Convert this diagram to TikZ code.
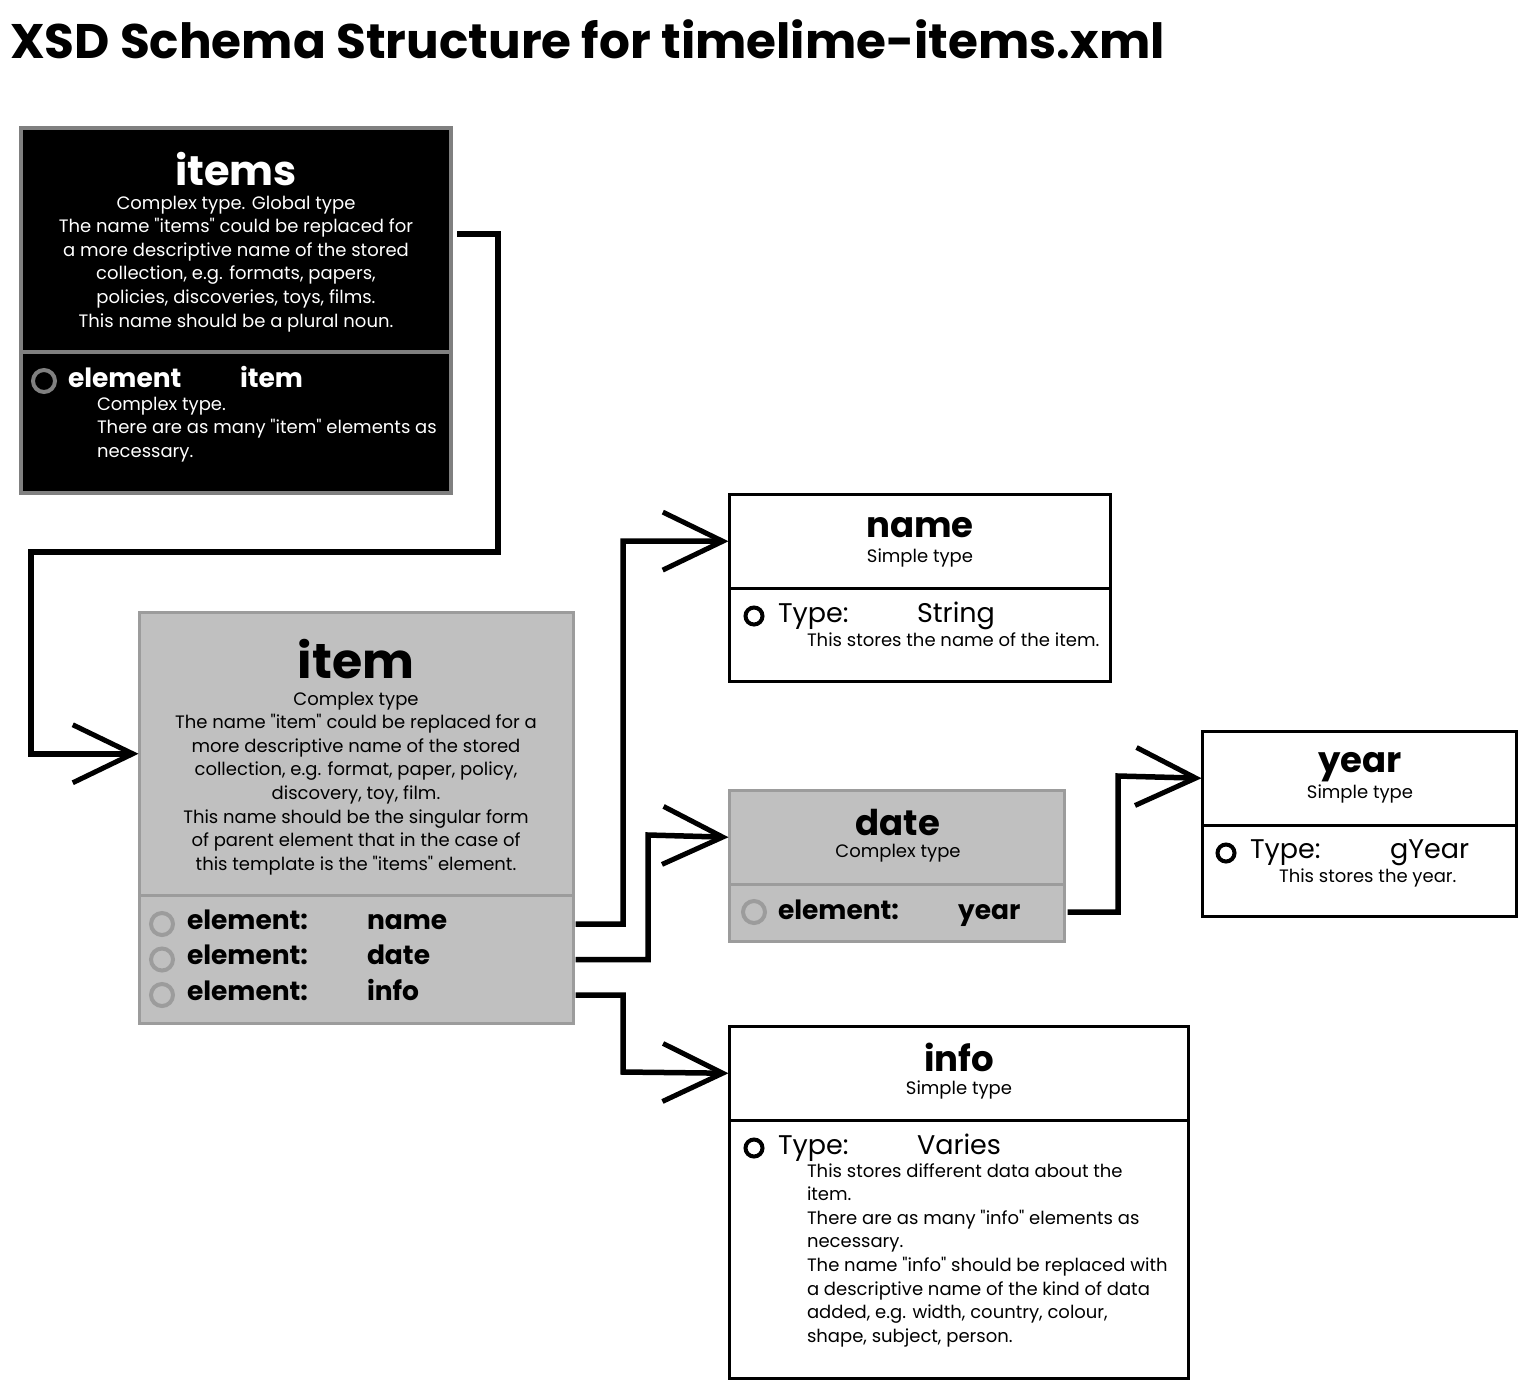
\documentclass[tikz,border=0pt]{standalone}
\usepackage{fontspec}
\setmainfont{Poppins}
\usetikzlibrary{arrows.meta,calc}
\definecolor{panelgray}{HTML}{C0C0C0}
\definecolor{edgegray}{HTML}{9C9C9C}
\definecolor{darkedge}{HTML}{808080}
\newcommand{\fsz}[2]{\fontsize{#1}{#2}\selectfont}
\newcommand{\qq}{\textquotedbl}
\begin{document}
\begin{tikzpicture}[x=1pt,y=-1pt,
  part/.style={rectangle, inner sep=0, outer sep=0, anchor=north west},
  blackpart/.style={part, fill=black, draw=darkedge, line width=4pt},
  greypart/.style={part, fill=panelgray, draw=edgegray, line width=3pt},
  whitepart/.style={part, fill=white, draw=black, line width=3pt},
  txt/.style={inner sep=0, outer sep=0},
  bigtitle/.style={txt, anchor=base, font=\fsz{41.5}{50}\bfseries},
  subtitle/.style={txt, anchor=base, font=\fsz{35.5}{40}\bfseries},
  desc/.style={txt, font=\fsz{18}{23.6}},
  elemrow/.style={txt, anchor=base west, font=\fsz{26.5}{30}\bfseries},
  typerow/.style={txt, anchor=base west, font=\fsz{27}{30}},
  bullet/.style={circle, inner sep=0, minimum size=17pt, line width=4pt},
  greybullet/.style={circle, inner sep=0, minimum size=22pt, line width=4pt},
  conn/.style={line width=5.5pt, line join=miter,
    -{Straight Barb[length=60pt,width=58pt,line width=5pt]}, shorten >=1pt},
]
\useasboundingbox (0,0) rectangle (1528,1393);
\fill[white] (0,0) rectangle (1528,1393);

% heading
\node[txt, anchor=base west, font=\fsz{48.5}{60}\bfseries] (heading) at (10,58)
  {XSD Schema Structure for timelime-items.xml};

% ---------- items ----------
\node[blackpart, minimum width=430pt, minimum height=224pt] (itemshead) at (21,128) {};
\node[blackpart, minimum width=430pt, minimum height=141pt] (itemsbody) at (21,352) {};
\node[bigtitle, text=white] (itemsname) at (236,185) {items};
% multi-line nodes: the base anchor sits on the last line
\node[desc, text=white, anchor=base, align=center] (itemsdesc) at (236,327)
  {Complex type. Global type\\
   The name \qq items\qq{} could be replaced for\\
   a more descriptive name of the stored\\
   collection, e.g. formats, papers,\\
   policies, discoveries, toys, films.\\
   This name should be a plural noun.};
\node[greybullet, draw=darkedge] (itemsdot) at (44,381) {};
\node[elemrow, text=white] (itemsel) at (68,387) {element};
\node[elemrow, text=white] (itemsref) at (240,387) {item};
\node[desc, text=white, anchor=base west, align=left] (itemseldesc) at (97,457.2)
  {Complex type.\\
   There are as many \qq item\qq{} elements as\\
   necessary.};

% ---------- item ----------
\node[greypart, minimum width=434pt, minimum height=282.5pt] (itemhead) at (139.5,612.5) {};
\node[greypart, minimum width=434pt, minimum height=128.5pt] (itembody) at (139.5,895) {};
\node[bigtitle, font=\fsz{49}{60}\bfseries] (itemname) at (356,678) {item};
\node[desc, anchor=base, align=center] (itemdesc) at (356,870.2)
  {Complex type\\
   The name \qq item\qq{} could be replaced for a\\
   more descriptive name of the stored\\
   collection, e.g. format, paper, policy,\\
   discovery, toy, film.\\
   This name should be the singular form\\
   of parent element that in the case of\\
   this template is the \qq items\qq{} element.};
\foreach \k/\yy/\ref in {1/929/name, 2/964.5/date, 3/1000/info} {
  \node[greybullet, draw=edgegray] (itemdot\k) at (162,\yy-5) {};
  \node[elemrow] (itemel\k) at (187,\yy) {element:};
  \node[elemrow] (itemref\k) at (367,\yy) {\ref};
}

% ---------- name ----------
\node[whitepart, minimum width=381pt, minimum height=93.5pt] (namehead) at (729.5,494.5) {};
\node[whitepart, minimum width=381pt, minimum height=93.5pt] (namebody) at (729.5,588) {};
\node[subtitle] (nametitle) at (920,537) {name};
\node[desc, anchor=base] (namekind) at (920,562) {Simple type};
\node[bullet, draw=black] (namedot) at (754,616) {};
\node[typerow] (nametype) at (778,622) {Type:};
\node[typerow] (nameval) at (917,622) {String};
\node[desc, anchor=base west] (namedesc) at (807,646) {This stores the name of the item.};

% ---------- date ----------
\node[greypart, minimum width=335pt, minimum height=93.5pt] (datehead) at (729.5,790.5) {};
\node[greypart, minimum width=335pt, minimum height=57.5pt] (datebody) at (729.5,884) {};
\node[subtitle] (datetitle) at (898,835) {date};
\node[desc, anchor=base] (datekind) at (898,857) {Complex type};
\node[greybullet, draw=edgegray] (datedot) at (754,912) {};
\node[elemrow] (dateel) at (778,919) {element:};
\node[elemrow] (dateref) at (958,919) {year};

% ---------- year ----------
\node[whitepart, minimum width=314pt, minimum height=93.5pt] (yearhead) at (1202.5,731.5) {};
\node[whitepart, minimum width=314pt, minimum height=91.5pt] (yearbody) at (1202.5,825) {};
\node[subtitle] (yeartitle) at (1360,772) {year};
\node[desc, anchor=base] (yearkind) at (1360,798) {Simple type};
\node[bullet, draw=black] (yeardot) at (1226,853) {};
\node[typerow] (yeartype) at (1250,858) {Type:};
\node[typerow] (yearval) at (1390,858) {gYear};
\node[desc, anchor=base west] (yeardesc) at (1279,882) {This stores the year.};

% ---------- info ----------
\node[whitepart, minimum width=459pt, minimum height=93.5pt] (infohead) at (729.5,1026.5) {};
\node[whitepart, minimum width=459pt, minimum height=258.5pt] (infobody) at (729.5,1120) {};
\node[subtitle] (infotitle) at (959,1071) {info};
\node[desc, anchor=base] (infokind) at (959,1094) {Simple type};
\node[bullet, draw=black] (infodot) at (754,1148) {};
\node[typerow] (infotype) at (778,1154) {Type:};
\node[typerow] (infoval) at (917,1154) {Varies};
\node[desc, anchor=base west, align=left] (infodesc) at (807,1342.2)
  {This stores different data about the\\
   item.\\
   There are as many \qq info\qq{} elements as\\
   necessary.\\
   The name \qq info\qq{} should be replaced with\\
   a descriptive name of the kind of data\\
   added, e.g. width, country, colour,\\
   shape, subject, person.};

% ---------- connectors ----------
\draw[conn] ($(itemshead.east |- 0,234)+(6,0)$) -- ++(41,0) |- (31,552)
  |- (itemhead.west);
\draw[conn] ($(itembody.east |- itemdot1)+(2,0)$) -| (623,541) -- (namehead.west);
\draw[conn] ($(itembody.east |- itemdot2)+(2,0)$) -| (648,835) -- (datehead.west);
\draw[conn] ($(itembody.east |- itemdot3)+(2,0)$) -| (623,1072) -- (infohead.west);
\draw[conn] ($(datebody.east |- datedot)+(3,0)$) -| (1118,776) -- (yearhead.west);
\end{tikzpicture}
\end{document}
